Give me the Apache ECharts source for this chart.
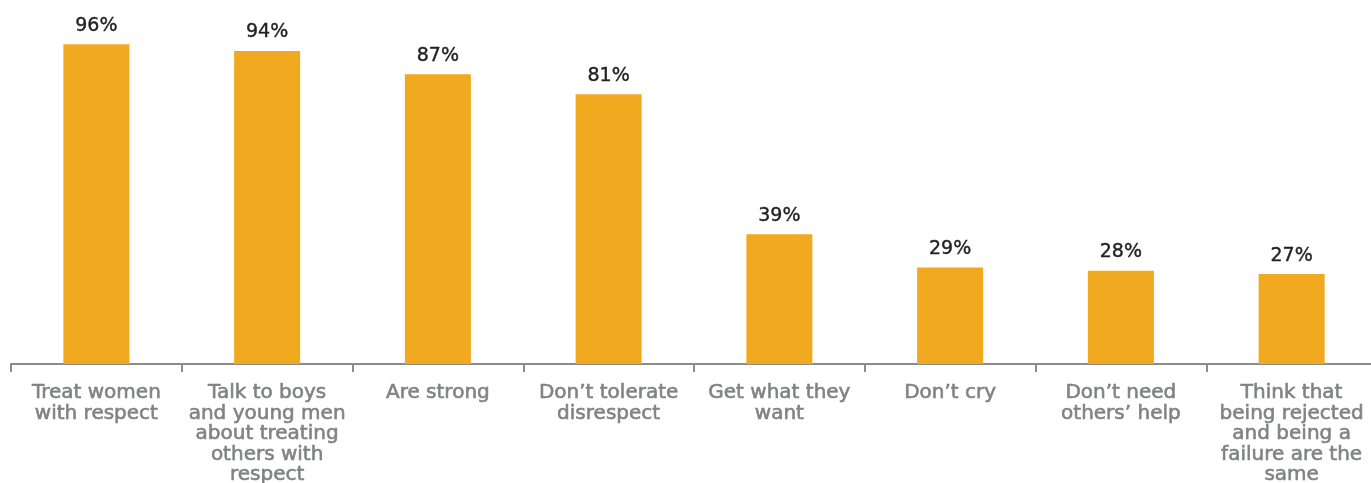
<!DOCTYPE html>
<html>
<head>
<meta charset="utf-8">
<script src="https://cdn.jsdelivr.net/npm/echarts@6/dist/echarts.min.js"></script>
<style>
  html, body { margin: 0; padding: 0; background: #fff; }
  #chart { width: 1371px; height: 483px; }
</style>
</head>
<body>
<div id="chart"></div>
<script>
var categories = [
  'Treat women\nwith respect',
  'Talk to boys\nand young men\nabout treating\nothers with\nrespect',
  'Are strong',
  'Don\u2019t tolerate\ndisrespect',
  'Get what they\nwant',
  'Don\u2019t cry',
  'Don\u2019t need\nothers\u2019 help',
  'Think that\nbeing rejected\nand being a\nfailure are the\nsame'
]
var values = [96, 94, 87, 81, 39, 29, 28, 27]

var chart = echarts.init(document.getElementById('chart'))
chart.setOption({
  backgroundColor: '#fff',
  animation: false,
  grid: {
    left: 11, width: 1366, top: 31, height: 333,
    containLabel: false,
    outerBoundsMode: 'none'
  },
  xAxis: {
    type: 'category',
    data: categories,
    axisLine: { lineStyle: { color: '#8a8b8d', width: 2 } },
    axisTick: { show: true, length: 8, lineStyle: { color: '#8a8b8d', width: 2 } },
    axisLabel: {
      interval: 0,
      margin: 19,
      color: '#808285',
      fontFamily: 'DejaVu Sans',
      fontSize: 20,
      lineHeight: 20.5,
      align: 'center',
      // a thin outline of the same colour to get closer to the medium weight
      textBorderColor: '#808285',
      textBorderWidth: 0.6
    }
  },
  yAxis: {
    type: 'value',
    min: 0,
    max: 100,
    show: false
  },
  series: [{
    type: 'bar',
    data: values,
    barWidth: 66,
    itemStyle: { color: '#f1a91f' },
    label: {
      show: true,
      position: 'top',
      distance: 9,
      formatter: '{c}%',
      color: '#231f20',
      fontFamily: 'DejaVu Sans',
      fontSize: 19,
      textBorderColor: '#231f20',
      textBorderWidth: 0.4
    }
  }]
})
</script>
</body>
</html>
